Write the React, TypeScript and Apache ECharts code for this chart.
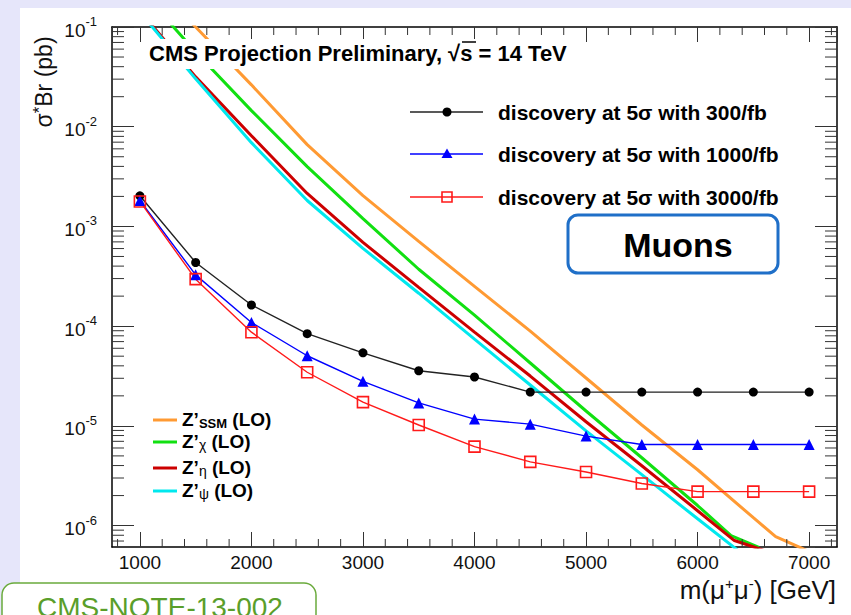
import React, { useEffect, useRef } from 'react';
import * as echarts from 'echarts';

// Dimuon Z' discovery reach, sigma*Br versus mass
const MASS_GEV = [1000, 1500, 2000, 2500, 3000, 3500, 4000, 4500, 5000, 5500, 6000, 6500, 7000];
const DISC_300FB = [2.03e-3, 4.35e-4, 1.63e-4, 8.4e-5, 5.4e-5, 3.57e-5, 3.09e-5, 2.18e-5, 2.18e-5, 2.18e-5, 2.18e-5, 2.18e-5, 2.18e-5];
const DISC_1000FB = [1.82e-3, 3.27e-4, 1.09e-4, 5.05e-5, 2.8e-5, 1.7e-5, 1.17e-5, 1.04e-5, 7.9e-6, 6.5e-6, 6.5e-6, 6.5e-6, 6.5e-6];
const DISC_3000FB = [1.78e-3, 2.96e-4, 8.7e-5, 3.45e-5, 1.73e-5, 1.02e-5, 6.2e-6, 4.35e-6, 3.45e-6, 2.64e-6, 2.19e-6, 2.19e-6, 2.19e-6];

// LO model cross sections
const SSM_MASS = [1000, 1500, 2000, 2500, 3000, 3500, 4000, 4500, 5000, 5500, 6000, 6500, 6700, 7000];
const SSM_XS = [3.55e-1, 1.0e-1, 2.63e-2, 6.61e-3, 2.04e-3, 7.08e-4, 2.51e-4, 8.91e-5, 3.02e-5, 1.02e-5, 3.63e-6, 1.2e-6, 7.76e-7, 5.5e-7];
const CHI_MASS = [1000, 1500, 2000, 2500, 3000, 3500, 4000, 4500, 5000, 5500, 6000, 6300, 6550];
const CHI_XS = [2.4e-1, 5.62e-2, 1.45e-2, 3.98e-3, 1.2e-3, 3.72e-4, 1.29e-4, 4.27e-5, 1.41e-5, 4.79e-6, 1.59e-6, 7.94e-7, 6.03e-7];
const ETA_MASS = [1000, 1500, 2000, 2500, 3000, 3500, 4000, 4500, 5000, 5500, 6000, 6330, 6600];
const ETA_XS = [1.45e-1, 3.16e-2, 8.13e-3, 2.14e-3, 6.92e-4, 2.45e-4, 8.71e-5, 3.16e-5, 1.1e-5, 3.98e-6, 1.41e-6, 7.08e-7, 5.62e-7];
const PSI_MASS = [1000, 1500, 2000, 2500, 3000, 3500, 4000, 4500, 5000, 5500, 6000, 6500];
const PSI_XS = [1.41e-1, 3.02e-2, 6.92e-3, 1.82e-3, 6.03e-4, 2.14e-4, 7.41e-5, 2.57e-5, 8.91e-6, 3.24e-6, 1.17e-6, 4.27e-7];

const X_MIN = 750;
const X_MAX = 7250;
const Y_MIN = 6.1e-7;
const Y_MAX = 1e-1;

// minor tick positions
const X_MINOR = [800, 1200, 1400, 1600, 1800, 2200, 2400, 2600, 2800, 3200, 3400, 3600, 3800, 4200, 4400, 4600, 4800, 5200, 5400, 5600, 5800, 6200, 6400, 6600, 6800, 7200];
const Y_MINOR_MANTISSA = [2, 3, 4, 5, 6, 7, 8, 9];
const Y_DECADES = [-7, -6, -5, -4, -3, -2];

const FONT = '"Liberation Sans", Arial, Helvetica, sans-serif';

const COL_SSM = '#ff9a33';
const COL_CHI = '#11e011';
const COL_ETA = '#cc0000';
const COL_PSI = '#00e8ee';

const pairs = (xs: number[], ys: number[]) => xs.map((x, i) => [x, ys[i]]);

function buildOption() {
  const yMinor: number[][] = [];
  Y_DECADES.forEach((d) => {
    Y_MINOR_MANTISSA.forEach((m) => {
      const v = m * Math.pow(10, d);
      if (v > Y_MIN && v < Y_MAX) yMinor.push([X_MIN, v]);
    });
  });
  const xMinor = X_MINOR.map((x) => [x, Y_MIN]);

  const frameAxis = {
    axisLine: { show: true, lineStyle: { color: '#000', width: 1.5 } },
    splitLine: { show: false },
  };

  const theory = (name: string, xs: number[], ys: number[], color: string) => ({
    name,
    type: 'line',
    data: pairs(xs, ys),
    showSymbol: false,
    symbol: 'none',
    lineStyle: { color, width: 3 },
    clip: true,
    z: 2,
    silent: true,
  });

  return {
    animation: false,
    backgroundColor: 'transparent',
    grid: { left: 112, right: 14, top: 27, bottom: 68, containLabel: false, outerBoundsMode: 'none' },
    xAxis: [
      {
        type: 'value',
        min: X_MIN,
        max: X_MAX,
        position: 'bottom',
        ...frameAxis,
        axisTick: { show: true, inside: true, length: 15, lineStyle: { color: '#333', width: 1 } },
        axisLabel: {
          show: true,
          fontFamily: FONT,
          fontSize: 19,
          color: '#111',
          margin: 6,
          showMinLabel: false,
          showMaxLabel: false,
          formatter: (v: number) => String(Math.round(v)),
        },
      },
      {
        type: 'value',
        min: X_MIN,
        max: X_MAX,
        position: 'top',
        ...frameAxis,
        axisTick: { show: true, inside: true, length: 15, lineStyle: { color: '#333', width: 1 } },
        axisLabel: { show: false },
      },
    ],
    yAxis: [
      {
        type: 'log',
        logBase: 10,
        min: Y_MIN,
        max: Y_MAX,
        position: 'left',
        ...frameAxis,
        axisTick: { show: true, inside: true, length: 22, lineStyle: { color: '#333', width: 1 } },
        axisLabel: {
          show: true,
          margin: 15,
          fontFamily: FONT,
          fontSize: 19,
          color: '#111',
          showMinLabel: false,
          formatter: (v: number) => `{t|10}{e|${Math.round(Math.log10(v))}}`,
          rich: {
            t: { fontFamily: FONT, fontSize: 19, color: '#111', lineHeight: 24, padding: [6, 0, 0, 0] },
            e: { fontFamily: FONT, fontSize: 13, color: '#111', verticalAlign: 'top', lineHeight: 13 },
          },
        },
      },
      {
        type: 'log',
        logBase: 10,
        min: Y_MIN,
        max: Y_MAX,
        position: 'right',
        ...frameAxis,
        axisTick: { show: true, inside: true, length: 22, lineStyle: { color: '#333', width: 1 } },
        axisLabel: { show: false },
      },
    ],
    series: [
      theory("Z'SSM", SSM_MASS, SSM_XS, COL_SSM),
      theory("Z'chi", CHI_MASS, CHI_XS, COL_CHI),
      theory("Z'eta", ETA_MASS, ETA_XS, COL_ETA),
      theory("Z'psi", PSI_MASS, PSI_XS, COL_PSI),
      {
        name: 'discovery at 5σ with 300/fb',
        type: 'line',
        data: pairs(MASS_GEV, DISC_300FB),
        symbol: 'circle',
        symbolSize: 9,
        lineStyle: { color: '#222', width: 1.4 },
        itemStyle: { color: '#000' },
        z: 4,
      },
      {
        name: 'discovery at 5σ with 1000/fb',
        type: 'line',
        data: pairs(MASS_GEV, DISC_1000FB),
        symbol: 'triangle',
        symbolSize: 11,
        lineStyle: { color: '#0000ff', width: 1.4 },
        itemStyle: { color: '#0000ff' },
        z: 4,
      },
      {
        name: 'discovery at 5σ with 3000/fb',
        type: 'line',
        data: pairs(MASS_GEV, DISC_3000FB),
        symbol: 'rect',
        symbolSize: 11,
        lineStyle: { color: '#ff1a1a', width: 1.4 },
        itemStyle: { color: 'rgba(255,255,255,0)', borderColor: '#ff1a1a', borderWidth: 1.6 },
        z: 4,
      },
      {
        name: 'y minor ticks',
        type: 'custom',
        data: yMinor,
        silent: true,
        clip: false,
        z: 5,
        renderItem: (_p: any, api: any) => {
          const v = api.value(1);
          const l = api.coord([X_MIN, v]);
          const r = api.coord([X_MAX, v]);
          const st = { stroke: '#333', lineWidth: 1 };
          return {
            type: 'group',
            children: [
              { type: 'line', shape: { x1: l[0], y1: l[1], x2: l[0] + 12, y2: l[1] }, style: st },
              { type: 'line', shape: { x1: r[0], y1: r[1], x2: r[0] - 12, y2: r[1] }, style: st },
            ],
          };
        },
      },
      {
        name: 'x minor ticks',
        type: 'custom',
        data: xMinor,
        silent: true,
        clip: false,
        z: 5,
        renderItem: (_p: any, api: any) => {
          const x = api.value(0);
          const b = api.coord([x, Y_MIN]);
          const t = api.coord([x, Y_MAX]);
          const st = { stroke: '#333', lineWidth: 1 };
          return {
            type: 'group',
            children: [
              { type: 'line', shape: { x1: b[0], y1: b[1], x2: b[0], y2: b[1] - 8 }, style: st },
              { type: 'line', shape: { x1: t[0], y1: t[1], x2: t[0], y2: t[1] + 8 }, style: st },
            ],
          };
        },
      },
    ],
    graphic: [
      // header with its white pad
      { type: 'rect', z: 50, shape: { x: 145, y: 39, width: 425, height: 30 }, style: { fill: '#fff' } },
      {
        type: 'text',
        z: 51,
        x: 149,
        y: 53,
        style: {
          text: 'CMS Projection Preliminary, √s = 14 TeV',
          font: `bold 22px ${FONT}`,
          fill: '#000',
          verticalAlign: 'middle',
        },
      },
      { type: 'line', z: 52, shape: { x1: 462, y1: 42, x2: 476, y2: 42 }, style: { stroke: '#000', lineWidth: 1.5 } },
      // y axis title
      {
        type: 'text',
        z: 51,
        x: 44,
        y: 82,
        rotation: Math.PI / 2,
        style: {
          text: '{a|σ}{s|*}{a|Br (pb)}',
          align: 'center',
          verticalAlign: 'middle',
          rich: {
            a: { fontFamily: FONT, fontSize: 23, fill: '#111', lineHeight: 26 },
            s: { fontFamily: FONT, fontSize: 17, fill: '#111', verticalAlign: 'top', lineHeight: 15 },
          },
        },
      },
      // x axis title
      {
        type: 'text',
        z: 51,
        x: 836,
        y: 590,
        style: {
          text: '{a|m(μ}{s|+}{a|μ}{s|-}{a|) [GeV]}',
          align: 'right',
          verticalAlign: 'middle',
          rich: {
            a: { fontFamily: FONT, fontSize: 26, fill: '#111', lineHeight: 29 },
            s: { fontFamily: FONT, fontSize: 15, fill: '#111', verticalAlign: 'top', lineHeight: 13 },
          },
        },
      },
      // discovery legend
      { type: 'line', z: 51, shape: { x1: 410, y1: 112, x2: 483, y2: 112 }, style: { stroke: '#222', lineWidth: 1.4 } },
      { type: 'circle', z: 52, shape: { cx: 447, cy: 112, r: 4.5 }, style: { fill: '#000' } },
      { type: 'line', z: 51, shape: { x1: 410, y1: 154, x2: 483, y2: 154 }, style: { stroke: '#0000ff', lineWidth: 1.4 } },
      { type: 'polygon', z: 52, shape: { points: [[447, 148.5], [452.5, 158], [441.5, 158]] }, style: { fill: '#0000ff' } },
      { type: 'line', z: 51, shape: { x1: 410, y1: 197, x2: 483, y2: 197 }, style: { stroke: '#ff1a1a', lineWidth: 1.4 } },
      { type: 'rect', z: 52, shape: { x: 442, y: 192, width: 10, height: 10 }, style: { fill: 'none', stroke: '#ff1a1a', lineWidth: 1.6 } },
      ...[
        ['discovery at 5σ with 300/fb', 112],
        ['discovery at 5σ with 1000/fb', 154],
        ['discovery at 5σ with 3000/fb', 197],
      ].map(([t, y]) => ({
        type: 'text',
        z: 52,
        x: 498,
        y: y as number,
        style: { text: t as string, font: `bold 21px ${FONT}`, fill: '#000', verticalAlign: 'middle' },
      })),
      // channel tag
      {
        type: 'rect',
        z: 50,
        shape: { x: 568, y: 215, width: 210, height: 58, r: 10 },
        style: { fill: '#fff', stroke: '#1f6fc8', lineWidth: 3 },
      },
      {
        type: 'text',
        z: 51,
        x: 678,
        y: 245,
        style: { text: 'Muons', font: `bold 34px ${FONT}`, fill: '#000', align: 'center', verticalAlign: 'middle' },
      },
      // model legend
      ...[
        [COL_SSM, 420, 'SSM', 'b'],
        [COL_CHI, 442, 'χ', 'g'],
        [COL_ETA, 468, 'η', 'g'],
        [COL_PSI, 491, 'ψ', 'g'],
      ].flatMap(([c, y, sub, kind]) => [
        { type: 'line', z: 51, shape: { x1: 153, y1: y as number, x2: 177, y2: y as number }, style: { stroke: c as string, lineWidth: 3 } },
        {
          type: 'text',
          z: 52,
          x: 182,
          y: (y as number) - 1,
          style: {
            text: `{z|Z’}{${kind}|${sub}}{z| (LO)}`,
            verticalAlign: 'middle',
            rich: {
              z: { font: `bold 19px ${FONT}`, fill: '#000', lineHeight: 22 },
              b: { font: `bold 13px ${FONT}`, fill: '#000', verticalAlign: 'bottom', lineHeight: 14 },
              g: { font: `14px ${FONT}`, fill: '#000', verticalAlign: 'bottom', lineHeight: 14 },
            },
          },
        },
      ]),
      // note tag
      {
        type: 'rect',
        z: 50,
        shape: { x: 2, y: 583, width: 314, height: 50, r: 12 },
        style: { fill: '#fff', stroke: '#6aaa3c', lineWidth: 1.5 },
      },
      {
        type: 'text',
        z: 51,
        x: 160,
        y: 607,
        style: { text: 'CMS-NOTE-13-002', font: `28px ${FONT}`, fill: '#5a9e2a', align: 'center', verticalAlign: 'middle' },
      },
    ],
  };
}

export default function App() {
  const ref = useRef<HTMLDivElement>(null);
  useEffect(() => {
    if (!ref.current) return;
    const chart = echarts.init(ref.current, null, { renderer: 'svg' });
    chart.setOption(buildOption() as any);
    return () => chart.dispose();
  }, []);
  return (
    <div style={{ position: 'fixed', left: 0, top: 0, width: 851, height: 615, background: '#e6e6fa', overflow: 'hidden' }}>
      <div style={{ position: 'absolute', left: 20, top: 8, width: 831, height: 607, background: '#fff' }} />
      <div ref={ref} style={{ position: 'absolute', left: 0, top: 0, width: 851, height: 615 }} />
    </div>
  );
}
